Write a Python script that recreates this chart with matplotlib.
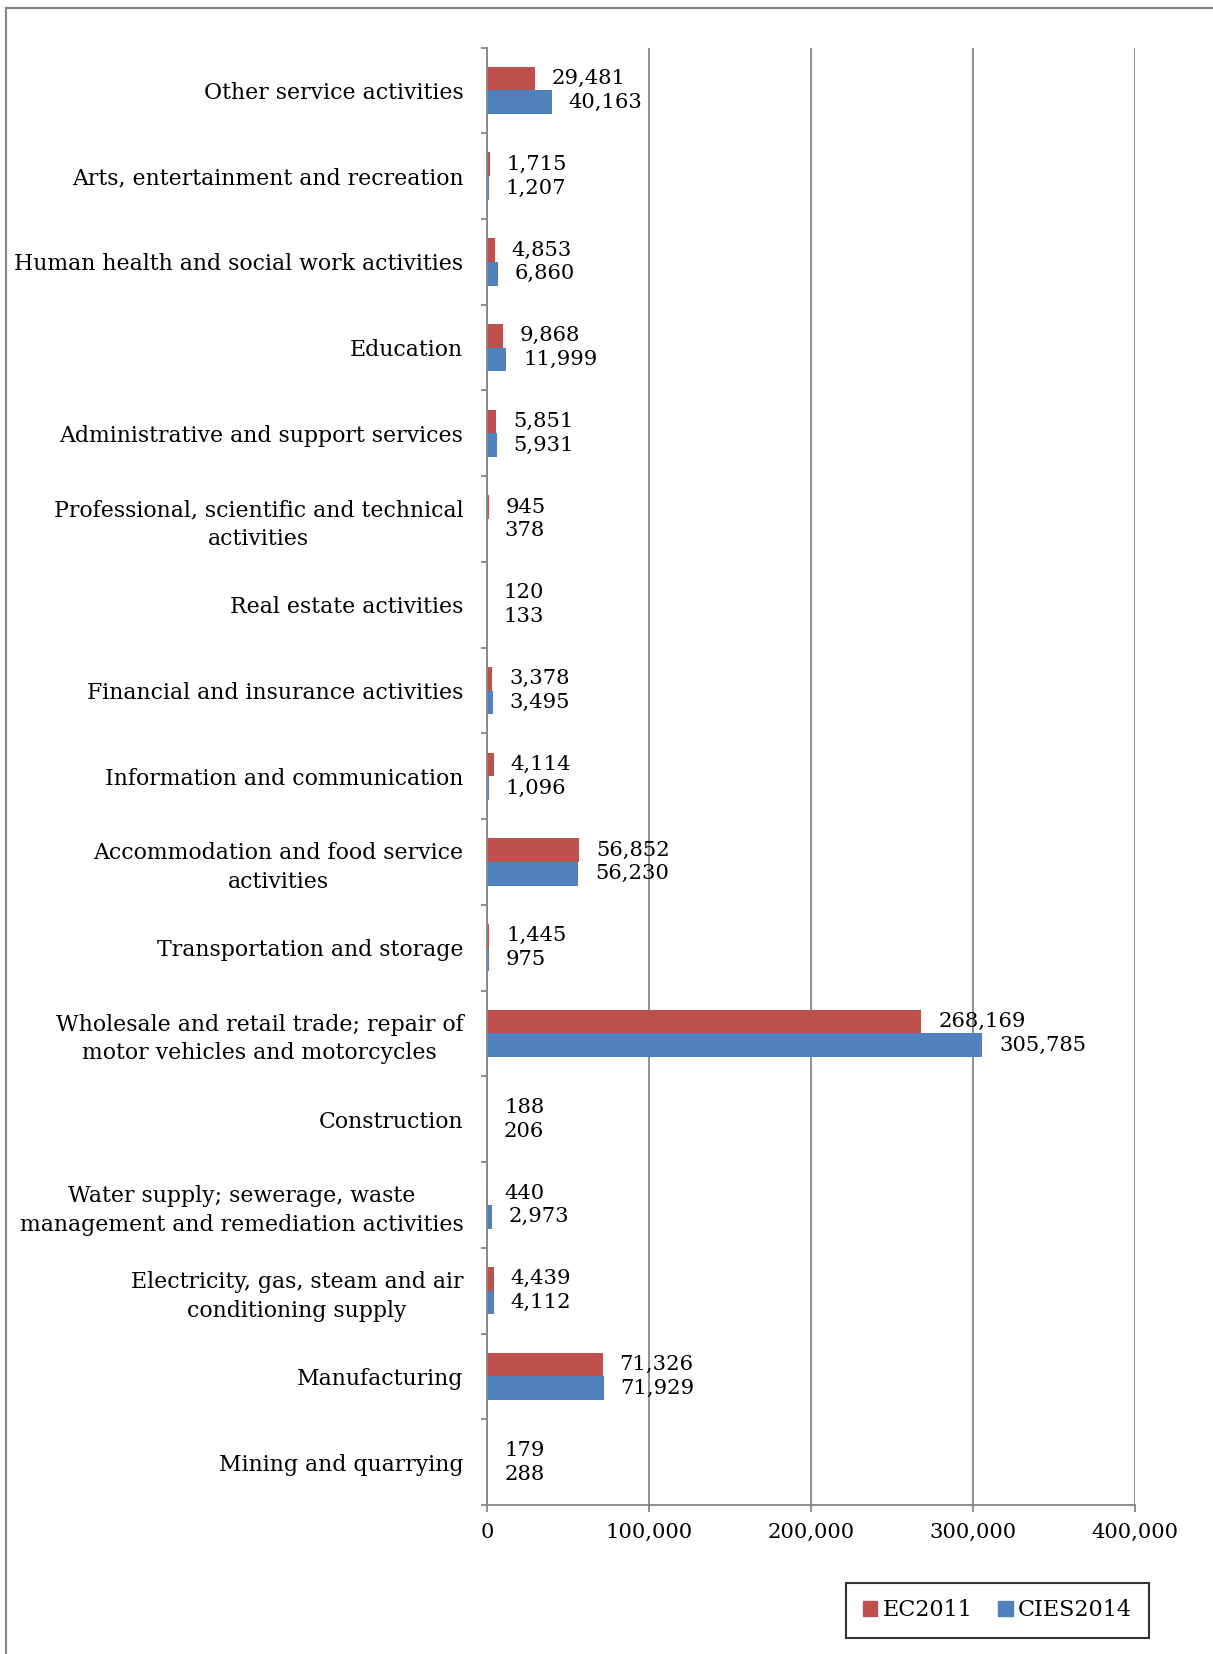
import numpy as np
import matplotlib.pyplot as plt
from matplotlib.patches import Patch
from matplotlib.lines import Line2D

# categories, top to bottom as read on the chart
categories = [
    "Other service activities",
    "Arts, entertainment and recreation",
    "Human health and social work activities",
    "Education",
    "Administrative and support services",
    "Professional, scientific and technical\nactivities",
    "Real estate activities",
    "Financial and insurance activities",
    "Information and communication",
    "Accommodation and food service\nactivities",
    "Transportation and storage",
    "Wholesale and retail trade; repair of\nmotor vehicles and motorcycles",
    "Construction",
    "Water supply; sewerage, waste\nmanagement and remediation activities",
    "Electricity, gas, steam and air\nconditioning supply",
    "Manufacturing",
    "Mining and quarrying",
]
ec2011 = [29481, 1715, 4853, 9868, 5851, 945, 120, 3378, 4114, 56852,
          1445, 268169, 188, 440, 4439, 71326, 179]
cies2014 = [40163, 1207, 6860, 11999, 5931, 378, 133, 3495, 1096, 56230,
            975, 305785, 206, 2973, 4112, 71929, 288]
xticks = [0, 100000, 200000, 300000, 400000]

red = "#C0504D"
blue = "#4F81BD"
gray = "#868686"

plt.rcParams['font.family'] = ['DejaVu Serif']
fs = 15.2
fs_cat = 15.8

fig = plt.figure(figsize=(12.13, 16.54), dpi=100)
ax = fig.add_axes([487/1213, 1 - 1505/1654, (1135-487)/1213, (1505-47.5)/1654])

y = np.arange(len(categories))
h = 0.277
ax.barh(y - h/2, ec2011, height=h, color=red, label="EC2011")
ax.barh(y + h/2, cies2014, height=h, color=blue, label="CIES2014")

for yi, v in zip(y - h/2, ec2011):
    ax.annotate(f"{v:,}", (v, yi), xytext=(12, 0), textcoords="offset points",
                va="center", ha="left", fontsize=fs)
for yi, v in zip(y + h/2, cies2014):
    ax.annotate(f"{v:,}", (v, yi), xytext=(12, 0), textcoords="offset points",
                va="center", ha="left", fontsize=fs)

ax.set_ylim(len(categories) - 0.5, -0.5)
ax.set_xlim(0, 400000)
ax.set_yticks(y)
ax.set_yticklabels(categories, fontsize=fs_cat, multialignment="center",
                   linespacing=1.38)
ax.set_yticks(np.arange(-0.5, len(categories)), minor=True)
ax.tick_params(axis="y", which="major", length=0, pad=17)
ax.tick_params(axis="y", which="minor", length=4, width=1.3, color=gray)

ax.set_xticks(xticks)
ax.set_xticklabels([f"{t:,}" for t in xticks], fontsize=fs)
ax.tick_params(axis="x", length=5, width=1.3, color=gray, pad=8)

ax.grid(axis="x", color=gray, lw=1.3)
ax.set_axisbelow(True)
for s in ["top", "right"]:
    ax.spines[s].set_visible(False)
for s in ["left", "bottom"]:
    ax.spines[s].set_color(gray)
    ax.spines[s].set_linewidth(1.3)

handles = [Patch(color=red, label="EC2011"), Patch(color=blue, label="CIES2014")]
leg = fig.legend(handles=handles, loc="center", bbox_to_anchor=(997.5/1213, 43.5/1654),
                 ncol=2, fontsize=16, frameon=True, fancybox=False,
                 handlelength=0.65, handleheight=0.65, handletextpad=0.25,
                 columnspacing=1.15, borderpad=0.75, borderaxespad=0)
leg.get_frame().set_edgecolor("black")
leg.get_frame().set_linewidth(1.5)

# outer chart border (only left and top edges fall inside the image)
fig.add_artist(Line2D([6/1213, 6/1213], [0, 1 - 8/1654], transform=fig.transFigure,
                      color=gray, lw=1.5))
fig.add_artist(Line2D([6/1213, 1], [1 - 8/1654, 1 - 8/1654], transform=fig.transFigure,
                      color=gray, lw=1.5))

fig.savefig("out.png", dpi=100)
